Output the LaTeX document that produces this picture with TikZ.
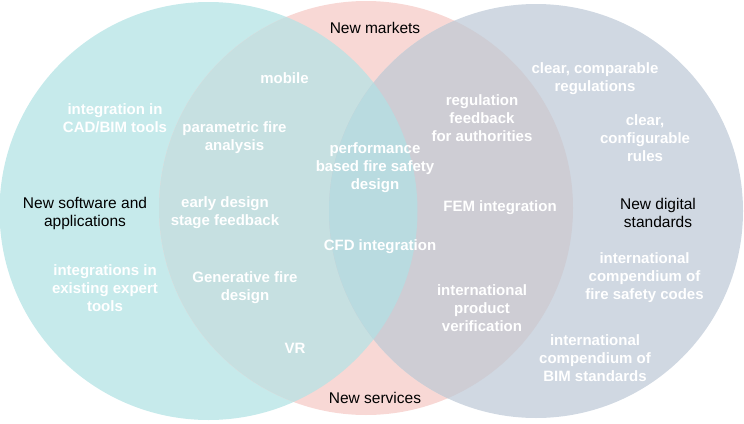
\documentclass[tikz,border=0pt]{standalone}
\usepackage{fontspec}
\usepackage{xcolor}
\setmainfont{Liberation Sans}
\definecolor{softteal}{RGB}{198,234,235}
\definecolor{softpink}{RGB}{248,216,213}
\definecolor{softgray}{RGB}{208,216,226}
\definecolor{tealpink}{RGB}{198,224,225}
\definecolor{pinkgray}{RGB}{206,205,212}
\definecolor{allthree}{RGB}{185,219,224}

\begin{document}
\begin{tikzpicture}[
                x=1pt, y=-1pt,
                idea/.style={text=white, font=\bfseries\fontsize{15}{18}\selectfont, align=center, inner sep=0pt, yshift=-1pt},
                settitle/.style={text=black, font=\fontsize{15.5}{18}\selectfont, align=center, inner sep=0pt, yshift=-1pt}
            ]
                \useasboundingbox (0, 0) rectangle (744, 423);

                % Sets
                \def\softwarecircle{(208.5, 211) circle (209)}
                \def\marketcircle{(366, 208) circle (207)}
                \def\standardcircle{(536, 211) circle (207)}
                \fill[softteal] \softwarecircle;
                \fill[softpink] \marketcircle;
                \fill[softgray] \standardcircle;

                % Overlaps
                \begin{scope}
                    \clip \marketcircle;
                    \fill[tealpink] \softwarecircle;
                    \fill[pinkgray] \standardcircle;
                \end{scope}
                \begin{scope}
                    \clip \softwarecircle;
                    \fill[allthree] \standardcircle;
                \end{scope}

                % Set titles
                \node[settitle] (markets) at (375, 27) {New markets};
                \node[settitle] (services) at (375, 397) {New services};
                \node[settitle] (software) at (85, 212) {New software and\\applications};
                \node[settitle] (standards) at (658, 212) {New digital\\standards};

                % Software only
                \node[idea] (cadbim) at (115, 117) {integration in\\CAD/BIM tools};
                \node[idea] (experttools) at (105, 287) {integrations in\\existing expert\\tools};

                % Software and markets/services
                \node[idea] (mobile) at (284.5, 77) {mobile};
                \node[idea] (parametric) at (234.5, 137) {parametric fire\\analysis};
                \node[idea] (earlydesign) at (225, 212) {early design\\stage feedback};
                \node[idea] (generative) at (245, 287) {Generative fire\\design};
                \node[idea] (vr) at (295, 347) {VR};

                % All three
                \node[idea] (performance) at (375, 167) {performance\\based fire safety\\design};
                \node[idea] (cfd) at (380, 246) {CFD integration};

                % Markets/services and standards
                \node[idea] (regfeedback) at (482, 117) {regulation\\feedback\\for authorities};
                \node[idea] (fem) at (500, 207) {FEM integration};
                \node[idea] (verification) at (482, 307) {international\\product\\verification};

                % Standards only
                \node[idea] (comparable) at (595, 77.5) {clear, comparable\\regulations};
                \node[idea] (configurable) at (645, 137) {clear,\\configurable\\rules};
                \node[idea] (firecodes) at (644.5, 277) {international\\compendium of\\fire safety codes};
                \node[idea] (bimstandards) at (595, 357) {international\\compendium of\\BIM standards};
            \end{tikzpicture}
\end{document}
